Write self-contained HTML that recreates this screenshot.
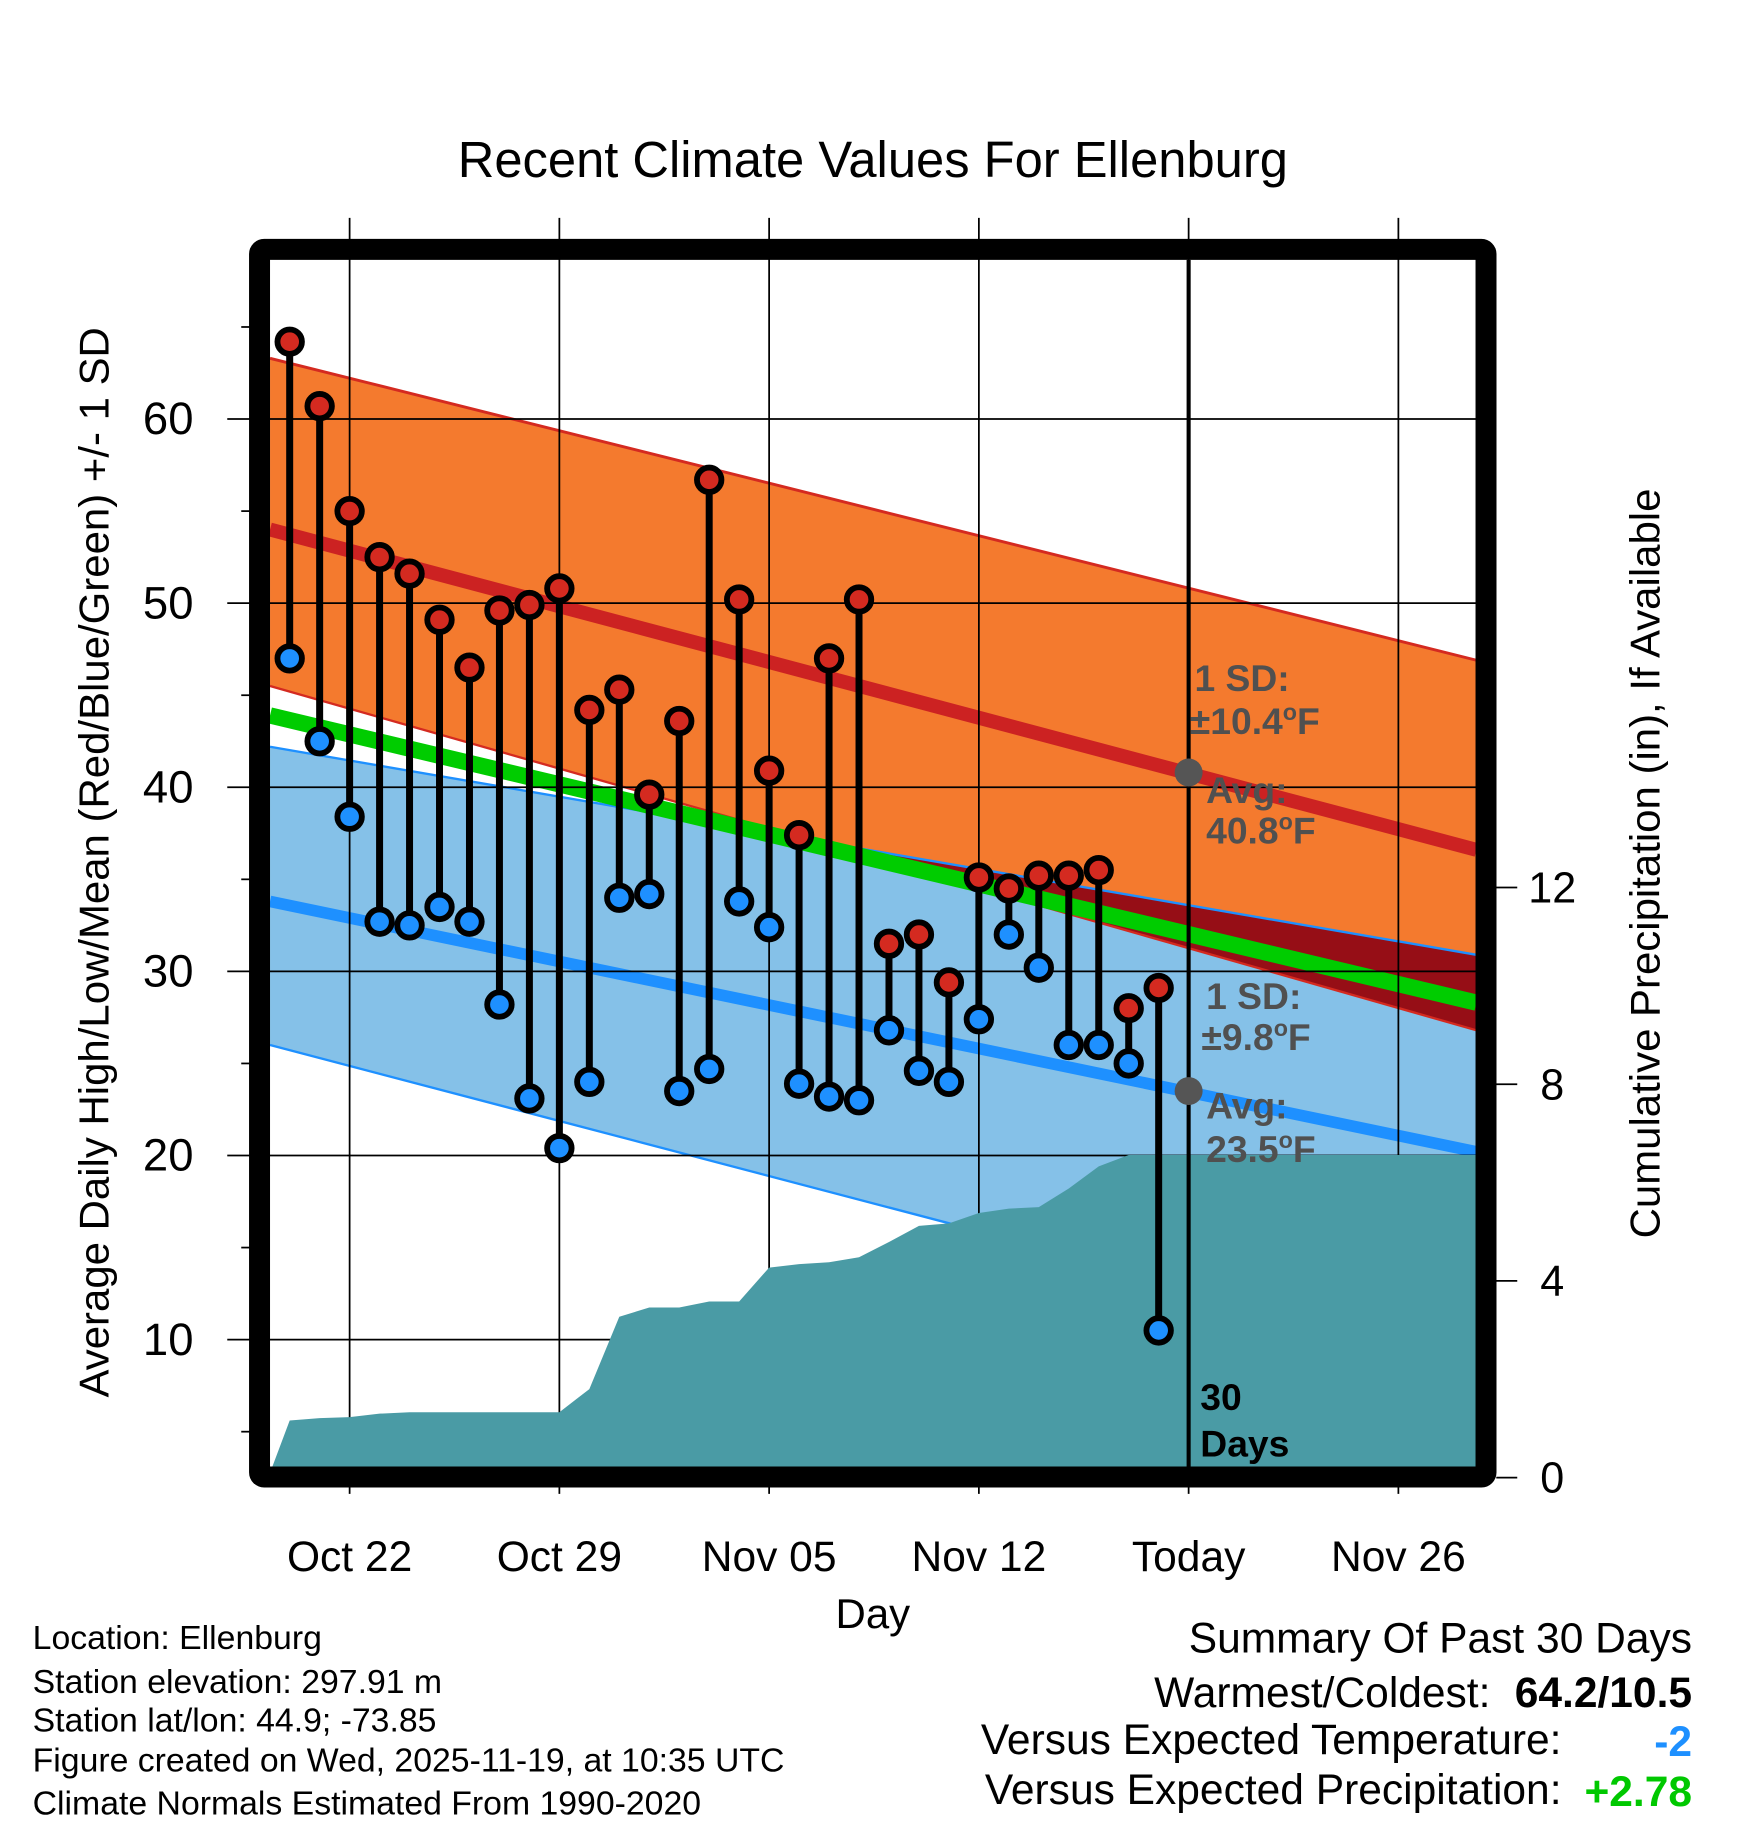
<!DOCTYPE html>
<html><head><meta charset="utf-8"><style>
html,body{margin:0;padding:0;background:#fff;}
svg{display:block;font-family:"Liberation Sans",Arial,sans-serif;}
</style></head><body>
<svg id="chart" width="1748" height="1828" viewBox="0 0 1500 1568.7" xmlns="http://www.w3.org/2000/svg">
<g id="fills"></g>
<g id="grid"></g>
<g id="precip"></g>
<g id="norms"></g>
<g id="marks"></g>
<g id="frame"></g>
<g id="labels"></g>
</svg>
<script>
// ---- data ----
const days = ["Oct 20","Oct 21","Oct 22","Oct 23","Oct 24","Oct 25","Oct 26","Oct 27","Oct 28","Oct 29","Oct 30","Oct 31","Nov 01","Nov 02","Nov 03","Nov 04","Nov 05","Nov 06","Nov 07","Nov 08","Nov 09","Nov 10","Nov 11","Nov 12","Nov 13","Nov 14","Nov 15","Nov 16","Nov 17","Nov 18"];
const highs = [64.2,60.7,55.0,52.5,51.6,49.1,46.5,49.6,49.9,50.8,44.2,45.3,39.6,43.6,56.7,50.2,40.9,37.4,47.0,50.2,31.5,32.0,29.4,35.1,34.5,35.2,35.2,35.5,28.0,29.1];
const lows = [47.0,42.5,38.4,32.7,32.5,33.5,32.7,28.2,23.1,20.4,24.0,34.0,34.2,23.5,24.7,33.8,32.4,23.9,23.2,23.0,26.8,24.6,24.0,27.4,32.0,30.2,26.0,26.0,25.0,10.5];
const precip = [1.16,1.21,1.23,1.30,1.33,1.33,1.33,1.33,1.33,1.33,1.80,3.27,3.46,3.46,3.58,3.58,4.27,4.34,4.38,4.48,4.79,5.12,5.17,5.38,5.47,5.50,5.88,6.33,6.56,6.56];
// normals at left edge and right edge of plot
const normHigh = [54.0,36.6];
const normHighUpper = [63.3,46.9];
const normHighLower = [45.5,26.8];
const normMean = [43.9,28.3];
const normLow = [33.8,20.2];
const normLowUpper = [42.2,30.9];
const normLowLower = [26.0,8.8];
const yTicks = [10,20,30,40,50,60];
const yMinor = [5,15,25,35,45,55,65];
const pTicks = [0,4,8,12];
const xTickDays = [0,7,14,21,28,35];
const xTickLabels = ["Oct 22","Oct 29","Nov 05","Nov 12","Today","Nov 26"];
const todayHigh = 40.8, todayLow = 23.5;

// ---- axes ----
const L=231.7,R=1267,T=223,B=1259;
const X0=300, DX=180/7; // day 0 = Oct 22
const x = d => X0 + d*DX;
const y = v => 359.6 + (60-v)*15.8;
const yp = p => 1268 - p*42.2;
const dLeft=(L-X0)/DX, dRight=(R-X0)/DX;
const NS="http://www.w3.org/2000/svg";
function mk(parent,tag,attrs,text){const e=document.createElementNS(NS,tag);for(const k in attrs)e.setAttribute(k,attrs[k]);if(text!==undefined)e.textContent=text;document.getElementById(parent).appendChild(e);return e;}
function band(up,lo){return `${L},${y(up[0])} ${R},${y(up[1])} ${R},${y(lo[1])} ${L},${y(lo[0])}`;}

let e;
e=mk('fills','polygon',{points:band(normLowUpper,normLowLower),fill:'#85c1e8'});


e=mk('fills','polygon',{points:band(normHighUpper,normHighLower),fill:'#f47a2e'});


(function(){
  const a0=y(normHighLower[0]),a1=y(normHighLower[1]),b0=y(normLowUpper[0]),b1=y(normLowUpper[1]);
  const f0=b0-a0,f1=b1-a1;
  if(f1<0){const t=f0/(f0-f1);const xc=L+(R-L)*t,yc=a0+(a1-a0)*t;
    e=mk('fills','polygon',{points:`${xc},${yc} ${R},${b1} ${R},${a1}`,fill:'#960e16'});
    
    }
})();
mk('fills','line',{x1:L,y1:y(normHighUpper[0]),x2:R,y2:y(normHighUpper[1]),stroke:'#d42a20','stroke-width':2.5});
mk('fills','line',{x1:L,y1:y(normHighLower[0]),x2:R,y2:y(normHighLower[1]),stroke:'#d42a20','stroke-width':2});
mk('fills','line',{x1:L,y1:y(normLowUpper[0]),x2:R,y2:y(normLowUpper[1]),stroke:'#1e90ff','stroke-width':2});
mk('fills','line',{x1:L,y1:y(normLowLower[0]),x2:R,y2:y(normLowLower[1]),stroke:'#1e90ff','stroke-width':2});
e=mk('fills','line',{x1:L,y1:y(normMean[0]),x2:R,y2:y(normMean[1]),stroke:'#00cc00','stroke-width':14});


e=mk('fills','line',{x1:L,y1:y(normHigh[0]),x2:R,y2:y(normHigh[1]),stroke:'#cc2222','stroke-width':12});


e=mk('fills','line',{x1:L,y1:y(normLow[0]),x2:R,y2:y(normLow[1]),stroke:'#1e90ff','stroke-width':10});



yTicks.forEach(v=>{mk('grid','line',{x1:195,y1:y(v),x2:R,y2:y(v),stroke:'#000','stroke-width':1.5});
  e=mk('labels','text',{x:166,y:y(v)+13,'text-anchor':'end','font-size':39},String(v));
  
  });
yMinor.forEach(v=>mk('grid','line',{x1:207,y1:y(v),x2:215,y2:y(v),stroke:'#000','stroke-width':1.5}));
xTickDays.forEach((d,i)=>{mk('grid','line',{x1:x(d),y1:187,x2:x(d),y2:1282,stroke:'#000','stroke-width':1.5});
  e=mk('labels','text',{x:x(d),y:1348,'text-anchor':'middle','font-size':36.5},xTickLabels[i]);
  
  });
pTicks.forEach(p=>{mk('grid','line',{x1:1284,y1:yp(p),x2:1302,y2:yp(p),stroke:'#000','stroke-width':1.5});
  e=mk('labels','text',{x:1332,y:yp(p)+13,'text-anchor':'middle','font-size':37},String(p));
  
  });

(function(){
  let pts=`${L},${B} ${L},${yp(0)-4} `;
  precip.forEach((p,i)=>{pts+=`${x(i-2)},${yp(p)} `;});
  pts+=`${R},${yp(precip[precip.length-1])} ${R},${B}`;
  e=mk('precip','polygon',{points:pts,fill:'#4a9ba5'});
  
  
})();

const dToday=28;
e=mk('norms','line',{x1:x(dToday),y1:T,x2:x(dToday),y2:B,stroke:'#000','stroke-width':3.5});


e=mk('norms','circle',{cx:x(dToday),cy:y(todayHigh),r:12,fill:'#555'});


e=mk('norms','circle',{cx:x(dToday),cy:y(todayLow),r:12,fill:'#555'});



days.forEach((d,i)=>{
  const cx=x(i-2);
  e=mk('marks','line',{x1:cx,y1:y(highs[i]),x2:cx,y2:y(lows[i]),stroke:'#000','stroke-width':6});
  
  
});
days.forEach((d,i)=>{
  const cx=x(i-2);
  e=mk('marks','circle',{cx:cx,cy:y(highs[i]),r:10.5,fill:'#d42a20',stroke:'#000','stroke-width':5});
  
  
  e=mk('marks','circle',{cx:cx,cy:y(lows[i]),r:10.5,fill:'#1e90ff',stroke:'#000','stroke-width':5});
  
  
});

e=mk('frame','rect',{x:222.7,y:214,width:1052.5,height:1053.5,fill:'none',stroke:'#000','stroke-width':18,rx:4});


</script>
<svg style="position:absolute;left:0;top:0" width="1748" height="1828" viewBox="0 0 1500 1568.7" xmlns="http://www.w3.org/2000/svg" font-family="Liberation Sans, Arial, sans-serif">
<text x="749" y="152" text-anchor="middle" font-size="43.5">Recent Climate Values For Ellenburg</text>
<text transform="translate(93,740) rotate(-90)" text-anchor="middle" font-size="36">Average Daily High/Low/Mean (Red/Blue/Green) +/- 1 SD</text>
<text transform="translate(1424,741) rotate(-90)" text-anchor="middle" font-size="36">Cumulative Precipitation (in), If Available</text>
<text x="749" y="1397" text-anchor="middle" font-size="36">Day</text>
<g font-weight="bold" font-size="32" fill="#505050">
<text x="1025" y="593">1 SD:</text>
<text x="1021" y="630">±10.4<tspan font-size="20" dy="-12">o</tspan><tspan dy="12">F</tspan></text>
<text x="1035" y="689">Avg:</text>
<text x="1035" y="724">40.8<tspan font-size="20" dy="-12">o</tspan><tspan dy="12">F</tspan></text>
<text x="1035" y="866">1 SD:</text>
<text x="1031" y="901">±9.8<tspan font-size="20" dy="-12">o</tspan><tspan dy="12">F</tspan></text>
<text x="1035" y="960">Avg:</text>
<text x="1035" y="997">23.5<tspan font-size="20" dy="-12">o</tspan><tspan dy="12">F</tspan></text>
</g>
<g font-weight="bold" font-size="32" fill="#000">
<text x="1030" y="1210">30</text>
<text x="1030" y="1250">Days</text>
</g>
<g font-size="29">
<text x="28" y="1415">Location: Ellenburg</text>
<text x="28" y="1453">Station elevation: 297.91 m</text>
<text x="28" y="1486">Station lat/lon: 44.9; -73.85</text>
<text x="28" y="1520">Figure created on Wed, 2025-11-19, at 10:35 UTC</text>
<text x="28" y="1557">Climate Normals Estimated From 1990-2020</text>
</g>
<g font-size="36.5" text-anchor="end">
<text x="1452" y="1418">Summary Of Past 30 Days</text>
<text x="1279" y="1465">Warmest/Coldest:</text>
<text x="1452" y="1465" font-weight="bold">64.2/10.5</text>
<text x="1340" y="1505">Versus Expected Temperature:</text>
<text x="1452" y="1507" font-weight="bold" fill="#1e90ff">-2</text>
<text x="1340" y="1548">Versus Expected Precipitation:</text>
<text x="1452" y="1550" font-weight="bold" fill="#00c800">+2.78</text>
</g>
</svg>
</body></html>
